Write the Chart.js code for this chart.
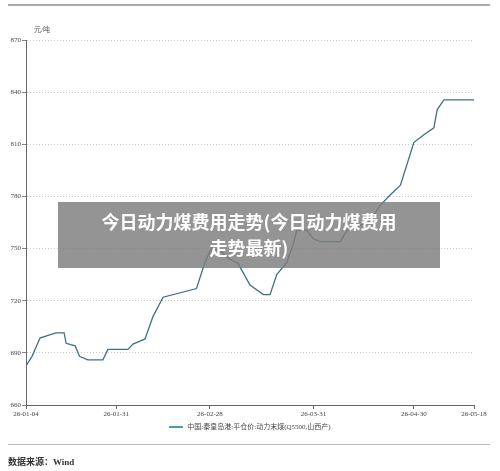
<!DOCTYPE html>
<html><head><meta charset="utf-8">
<script src="https://cdn.jsdelivr.net/npm/chart.js@4"></script>
<style>
body{margin:0;background:#fff;font-family:"Liberation Serif","Noto Sans CJK SC",serif;}
#wrap{position:relative;width:500px;height:471px;}
canvas{position:absolute;left:0;top:0;}
.abs{position:absolute;}
</style></head><body>
<div id="wrap">
<canvas id="c" width="500" height="471"></canvas>
<div class="abs" style="left:8px;top:4px;width:482px;border-top:2px solid #aaa"></div>
<div class="abs" style="left:34px;top:24px;font-size:7px;color:#555">元/吨</div>
<div class="abs" style="left:0;top:421px;width:500px;text-align:center;font-size:7px;color:#444">
<span style="display:inline-block;width:14px;border-top:2px solid #4a9bb0;vertical-align:middle;margin-right:4px"></span>中国:秦皇岛港:平仓价:动力末煤(Q5500,山西产)</div>
<div class="abs" style="left:8px;top:444px;width:482px;border-top:1px solid #bbb"></div>
<div class="abs" style="left:8px;top:455px;font-size:9px;color:#333;font-weight:bold">数据来源：Wind</div>
<div class="abs" style="left:58px;top:202px;width:382px;height:66px;background:rgba(125,125,125,0.82);color:#fff;font-family:'Noto Sans CJK SC';font-weight:bold;font-size:18px;line-height:26px;text-align:center;padding-top:6px;box-sizing:border-box">今日动力煤费用走势(今日动力煤费用<br>走势最新)</div>
</div>
<script>
// 秦皇岛港动力末煤平仓价（元/吨）
var days = [0,1.8,4.2,6.6,9,11.4,12,14.7,16,18.5,23,24.5,30.5,32,35.6,38,41,51,53.5,55.6,58.6,60,63.4,67,71,73,75,78,80,81,84,86,88,94,96,99,103,106,109,112,116,119,122,123,125,134];
var prices = [682.5,688,698.5,700,701.5,701.5,695.5,694,688,686,686,692,692,695,698,711,722,727,742,750.5,748,745,741.5,729,723.5,723.5,735,742,753,760.5,760.5,755.5,754,754,760.5,762.5,766,775,781,786.5,811,815.5,819.5,830,835.5,835.5];
var tickDays = [0,27,55,86,116,134];
var tickLabels = ['26-01-04','26-01-31','26-02-28','26-03-31','26-04-30','26-05-18'];
var yTicks = [660,690,720,750,780,810,840,870];

var pts = days.map(function(d,i){ return {x:d, y:prices[i]}; });
var tickFont = {family:'Liberation Serif', size:7};

new Chart(document.getElementById('c'), {
  type:'line',
  data:{datasets:[{data:pts, borderColor:'#3f7184', borderWidth:1.3, pointRadius:0, tension:0}]},
  options:{
    responsive:false, animation:false,
    layout:{padding:{top:40,right:26,left:0,bottom:0}},
    plugins:{legend:{display:false}, tooltip:{enabled:false}},
    scales:{
      x:{type:'linear', min:0, max:134,
        afterBuildTicks:function(s){ s.ticks = tickDays.map(function(v){return {value:v};}); },
        afterFit:function(s){ s.height = 66; },
        ticks:{font:tickFont, color:'#444', maxRotation:0, autoSkip:false, padding:1,
          callback:function(v){ return tickLabels[tickDays.indexOf(v)]; }},
        grid:{display:true, drawOnChartArea:false, tickLength:4, color:'#666'},
        border:{color:'#666', width:1}},
      y:{min:660, max:870,
        afterBuildTicks:function(s){ s.ticks = yTicks.map(function(v){return {value:v};}); },
        afterFit:function(s){ s.width = 26; },
        ticks:{font:tickFont, color:'#444', padding:1},
        grid:{color:'#bbb', lineWidth:0.8, tickLength:4, tickColor:'#666', tickBorderDash:[]},
        border:{color:'#666', width:1, dash:[1,2]}}
    }
  }
});
</script>
</body></html>
